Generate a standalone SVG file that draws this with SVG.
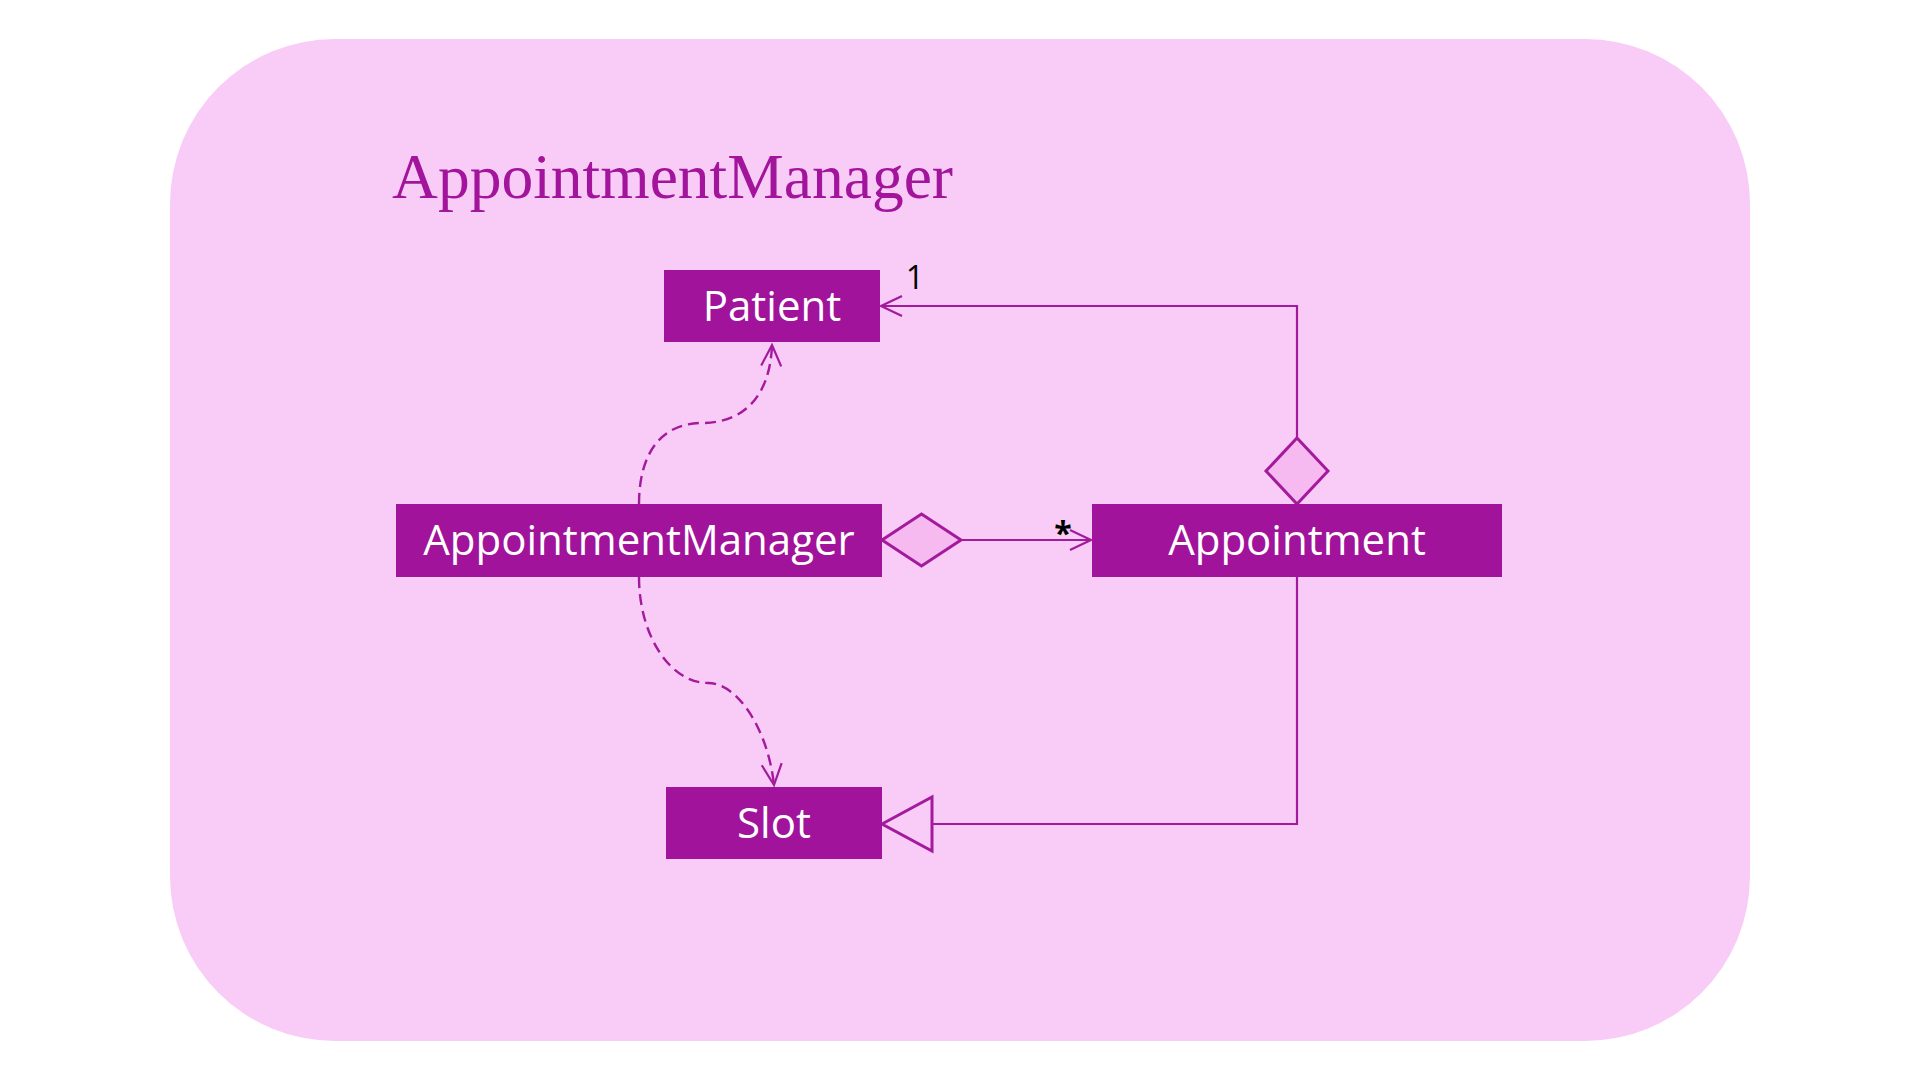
<svg xmlns="http://www.w3.org/2000/svg" width="1920" height="1080" viewBox="0 0 1920 1080">
<style>
.node rect{fill:#A0139A}
.lbl{font-family:"Open Sans","Noto Sans",sans-serif;font-size:42px;fill:#FFFFFF;text-anchor:middle}
.line{fill:none;stroke:#A31A9D;stroke-width:2.2}
.dash{fill:none;stroke:#A31A9D;stroke-width:2.4;stroke-dasharray:11 6}
.head{fill:#F6B9F0;stroke:#A31A9D;stroke-width:3;stroke-linejoin:miter}
.tri{fill:#F8CCF6;stroke:#A31A9D;stroke-width:3;stroke-linejoin:miter}
.mult{font-family:"Open Sans","Noto Sans",sans-serif;font-size:32px;fill:#000000;text-anchor:middle}
</style>
<defs>
<marker id="open" markerUnits="userSpaceOnUse" markerWidth="30" markerHeight="30" refX="25" refY="15" orient="auto" overflow="visible">
<path d="M4,5 L25,15 L4,25" fill="none" stroke="#A31A9D" stroke-width="2.2"/>
</marker>
</defs>
<rect x="0" y="0" width="1920" height="1080" fill="#FFFFFF"/>
<rect id="frame" x="170" y="39" width="1580" height="1002" rx="165" ry="165" fill="#F8CCF6"/>
<text id="title" x="392" y="198" font-family="'Liberation Serif','Times New Roman',serif" font-size="64" fill="#A2149C" textLength="561" lengthAdjust="spacingAndGlyphs">AppointmentManager</text>
<g id="connectors">
<path class="dash" d="M639,504 C639,455 660,423 702,423 C742,423 770,398 772,345" marker-end="url(#open)"/>
<path class="dash" d="M639,577 C639,635 670,683 708,683 C738,683 768,730 774,785" marker-end="url(#open)"/>
<path class="line" d="M961,540 L1091,540" marker-end="url(#open)"/>
<path class="line" d="M1297,438 L1297,306 L881,306" marker-end="url(#open)"/>
<path class="line" d="M1297,577 L1297,824 L932,824"/>
<polygon class="head" points="882,540 921.5,514 961,540 921.5,566"/>
<polygon class="head" points="1297,438 1328,471 1297,504 1266,471"/>
<polygon class="tri" points="882,824 932,797 932,851"/>
<text class="mult" x="915" y="289">1</text>
<text class="mult" x="1063" y="545" font-weight="bold">*</text>
</g>
<g id="patient" class="node">
<rect x="664" y="270" width="216" height="72"/>
<text class="lbl" x="772" y="321">Patient</text>
</g>
<g id="appointmentmanager" class="node">
<rect x="396" y="504" width="486" height="73"/>
<text class="lbl" x="639" y="555">AppointmentManager</text>
</g>
<g id="appointment" class="node">
<rect x="1092" y="504" width="410" height="73"/>
<text class="lbl" x="1297" y="555">Appointment</text>
</g>
<g id="slot" class="node">
<rect x="666" y="787" width="216" height="72"/>
<text class="lbl" x="774" y="838">Slot</text>
</g>
</svg>
